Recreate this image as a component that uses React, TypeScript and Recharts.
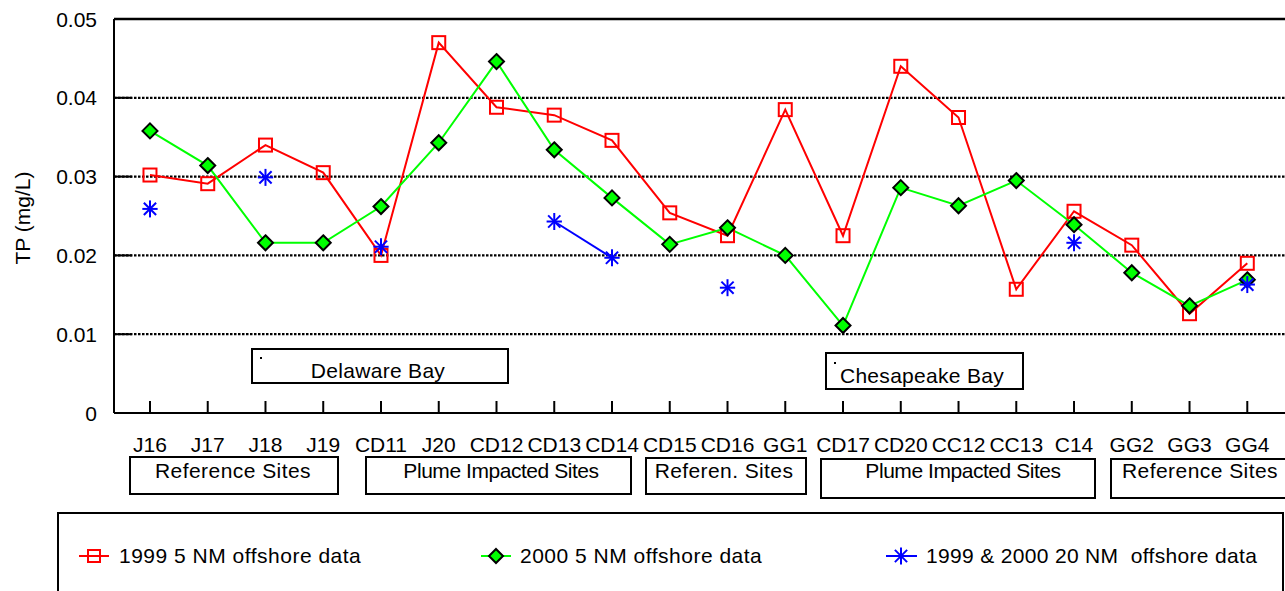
import React from 'react';
import { LineChart, Line, XAxis, YAxis, CartesianGrid, ReferenceLine } from 'recharts';

// ---------- data ----------
const categories = ['J16', 'J17', 'J18', 'J19', 'CD11', 'J20', 'CD12', 'CD13', 'CD14', 'CD15', 'CD16', 'GG1', 'CD17', 'CD20', 'CC12', 'CC13', 'C14', 'GG2', 'GG3', 'GG4'];
const tp1999_5nm = [0.0302, 0.0291, 0.0340, 0.0305, 0.0200, 0.0470, 0.0388, 0.0378, 0.0346, 0.0254, 0.0225, 0.0385, 0.0225, 0.0440, 0.0375, 0.0157, 0.0256, 0.0213, 0.0126, 0.0190];
const tp2000_5nm = [0.0358, 0.0314, 0.0216, 0.0216, 0.0262, 0.0343, 0.0446, 0.0334, 0.0273, 0.0214, 0.0235, 0.0200, 0.0111, 0.0286, 0.0263, 0.0295, 0.0239, 0.0178, 0.0136, 0.0169];
const tp20nm: (number | null)[] = [0.0259, null, 0.0299, null, 0.0211, null, null, 0.0243, 0.0197, null, 0.0159, null, null, null, null, null, 0.0216, null, null, 0.0163];
const yTicks = [0, 0.01, 0.02, 0.03, 0.04, 0.05];
const seriesNames = ['1999 5 NM offshore data', '2000 5 NM offshore data', '1999 & 2000 20 NM  offshore data'];
const yAxisTitle = 'TP (mg/L)';
const groupLabels = ['Reference Sites', 'Plume Impacted Sites', 'Referen. Sites', 'Plume Impacted Sites', 'Reference Sites'];
const bayLabels = ['Delaware Bay', 'Chesapeake Bay'];

const data = categories.map((name, i) => ({
  idx: i,
  name,
  r: tp1999_5nm[i],
  g: tp2000_5nm[i],
  b: tp20nm[i],
}));

// ---------- layout / style ----------
const W = 1285;
const H = 591;
const FONT = '"Liberation Sans", Arial, sans-serif';
const RED = '#FF0000';
const GREEN = '#00FF00';
const BLUE = '#0000FF';

// group boxes under the axis: [x0, x1, y0, y1, textCenterX]
const groupBoxes = [
  [130, 338, 457, 494, 233],
  [366, 631, 457, 494, 501],
  [646, 806, 458, 494, 724],
  [821, 1095, 459, 498, 963],
  [1111, 1300, 459, 498, 1200],
];
const groupSpacing = [0.45, -0.45, 0.4, -0.45, 0.45];

// bay boxes inside plot: [x0, x1, y0, y1, textCenterX, textBaselineY, dotX, dotY]
const bayBoxes = [
  [252, 508, 349, 383, 378, 378, 260, 357],
  [826, 1023, 353, 389, 922, 383, 834, 362],
];

// ---------- markers ----------
const Square = ({ cx, cy, s = 13 }: { cx: number; cy: number; s?: number }) => (
  <rect x={cx - s / 2} y={cy - s / 2} width={s} height={s} fill="none" stroke={RED} strokeWidth={2} />
);
const Diamond = ({ cx, cy, r = 7.5 }: { cx: number; cy: number; r?: number }) => (
  <polygon
    points={`${cx},${cy - r} ${cx + r},${cy} ${cx},${cy + r} ${cx - r},${cy}`}
    fill={GREEN}
    stroke="#000"
    strokeWidth={2}
  />
);
const Star = ({ cx, cy, r = 8.5 }: { cx: number; cy: number; r?: number }) => {
  const d = r * 0.72;
  return (
    <g stroke={BLUE} strokeWidth={2}>
      <line x1={cx} y1={cy - r} x2={cx} y2={cy + r} />
      <line x1={cx - d} y1={cy - d} x2={cx + d} y2={cy + d} />
      <line x1={cx - d} y1={cy + d} x2={cx + d} y2={cy - d} />
      <line x1={cx - r * 0.9} y1={cy} x2={cx + r * 0.9} y2={cy} />
    </g>
  );
};

const makeDot = (kind: 'sq' | 'di' | 'st') => (props: any) => {
  const { cx, cy, value, index } = props;
  if (value == null || cx == null || cy == null || isNaN(cy)) return <g key={`e-${kind}-${index}`} />;
  if (kind === 'sq') return <g key={`d-${kind}-${index}`}><Square cx={cx} cy={cy} /></g>;
  if (kind === 'di') return <g key={`d-${kind}-${index}`}><Diamond cx={cx} cy={cy} /></g>;
  return <g key={`d-${kind}-${index}`}><Star cx={cx} cy={cy} /></g>;
};

// ---------- ticks ----------
const XTick = (props: any) => {
  const { x, y, payload } = props;
  return (
    <g>
      <line x1={x} x2={x} y1={y} y2={y - 12} stroke="#000" strokeWidth={2} />
      <text
        x={x}
        y={y + 24}
        dy="0.71em"
        textAnchor="middle"
        fontSize={21}
        fontFamily={FONT}
        fill="#000"
      >
        {categories[payload.value]}
      </text>
    </g>
  );
};

const YTick = (props: any) => {
  const { x, y, payload } = props;
  const v = payload.value;
  const label = v === 0 ? '0' : v.toFixed(2);
  return (
    <g>
      <line x1={x} x2={x + 18} y1={y} y2={y} stroke="#000" strokeWidth={2} />
      <text
        x={x - 17}
        y={y}
        dy="0.36em"
        textAnchor="end"
        fontSize={21}
        fontFamily={FONT}
        fill="#000"
      >
        {label}
      </text>
    </g>
  );
};

export default function App() {
  return (
    <div style={{ position: 'absolute', left: 0, top: 0, width: W, height: H, background: '#fff', overflow: 'hidden' }}>
      <LineChart
        width={W}
        height={H}
        data={data}
        margin={{ top: 19, right: 0, bottom: 138, left: 0 }}
      >
        <CartesianGrid vertical={false} stroke="#000" strokeDasharray="2.5 1.5" strokeWidth={2.2} />
        <XAxis
          type="number"
          dataKey="idx"
          domain={[-0.623, 19.653]}
          ticks={categories.map((_, i) => i)}
          interval={0}
          allowDataOverflow
          tickSize={0}
          tickMargin={0}
          tickLine={false}
          axisLine={{ stroke: '#000', strokeWidth: 2 }}
          tick={<XTick />}
          height={40}
        />
        <YAxis
          type="number"
          domain={[0, 0.05]}
          ticks={yTicks}
          interval={0}
          allowDataOverflow
          tickSize={0}
          tickMargin={0}
          tickLine={false}
          axisLine={{ stroke: '#000', strokeWidth: 2 }}
          tick={<YTick />}
          width={114}
        />
        <ReferenceLine y={0.05} stroke="#000" strokeWidth={2.5} />
        <Line
          dataKey="r"
          name={seriesNames[0]}
          stroke={RED}
          strokeWidth={2}
          dot={makeDot('sq')}
          activeDot={false}
          isAnimationActive={false}
          connectNulls={false}
        />
        <Line
          dataKey="g"
          name={seriesNames[1]}
          stroke={GREEN}
          strokeWidth={2}
          dot={makeDot('di')}
          activeDot={false}
          isAnimationActive={false}
          connectNulls={false}
        />
        <Line
          dataKey="b"
          name={seriesNames[2]}
          stroke={BLUE}
          strokeWidth={2}
          dot={makeDot('st')}
          activeDot={false}
          isAnimationActive={false}
          connectNulls={false}
        />
      </LineChart>

      <svg
        width={W}
        height={H}
        style={{ position: 'absolute', left: 0, top: 0, pointerEvents: 'none' }}
        fontFamily={FONT}
      >
        {/* y axis title */}
        <text
          x={0}
          y={0}
          transform="translate(23,218) rotate(-90)"
          textAnchor="middle"
          dy="0.35em"
          fontSize={21}
          fill="#000"
        >
          {yAxisTitle}
        </text>

        {/* bay annotation boxes */}
        {bayBoxes.map((b, i) => (
          <g key={`bay-${i}`}>
            <rect x={b[0]} y={b[2]} width={b[1] - b[0]} height={b[3] - b[2]} fill="#fff" stroke="#000" strokeWidth={2} />
            <rect x={b[6]} y={b[7]} width={2} height={2} fill="#000" />
            <text x={b[4]} y={b[5]} textAnchor="middle" fontSize={21} fill="#000" style={{ letterSpacing: '0.3px' }}>
              {bayLabels[i]}
            </text>
          </g>
        ))}

        {/* group boxes under the axis */}
        {groupBoxes.map((b, i) => (
          <g key={`grp-${i}`}>
            <rect x={b[0]} y={b[2]} width={b[1] - b[0]} height={b[3] - b[2]} fill="#fff" stroke="#000" strokeWidth={2} />
            <text
              x={b[4]}
              y={470}
              dy="0.36em"
              textAnchor="middle"
              fontSize={21}
              fill="#000"
              style={{ letterSpacing: `${groupSpacing[i]}px` }}
            >
              {groupLabels[i]}
            </text>
          </g>
        ))}

        {/* legend */}
        <rect x={58} y={513} width={1225} height={110} fill="#fff" stroke="#000" strokeWidth={2} />
        <line x1={79} x2={109} y1={556} y2={556} stroke={RED} strokeWidth={2} />
        <Square cx={94} cy={556} s={12} />
        <text x={119} y={555} dy="0.36em" fontSize={21} fill="#000" style={{ letterSpacing: '0.5px', whiteSpace: 'pre' }}>
          {seriesNames[0]}
        </text>
        <line x1={481} x2={511} y1={556} y2={556} stroke={GREEN} strokeWidth={2} />
        <Diamond cx={496} cy={556} r={7} />
        <text x={520} y={555} dy="0.36em" fontSize={21} fill="#000" style={{ letterSpacing: '0.5px', whiteSpace: 'pre' }}>
          {seriesNames[1]}
        </text>
        <line x1={886} x2={917} y1={556} y2={556} stroke={BLUE} strokeWidth={2} />
        <Star cx={901} cy={556} r={8.5} />
        <text x={926} y={555} dy="0.36em" fontSize={21} fill="#000" style={{ letterSpacing: '0.33px', whiteSpace: 'pre' }}>
          {seriesNames[2]}
        </text>
      </svg>
    </div>
  );
}
